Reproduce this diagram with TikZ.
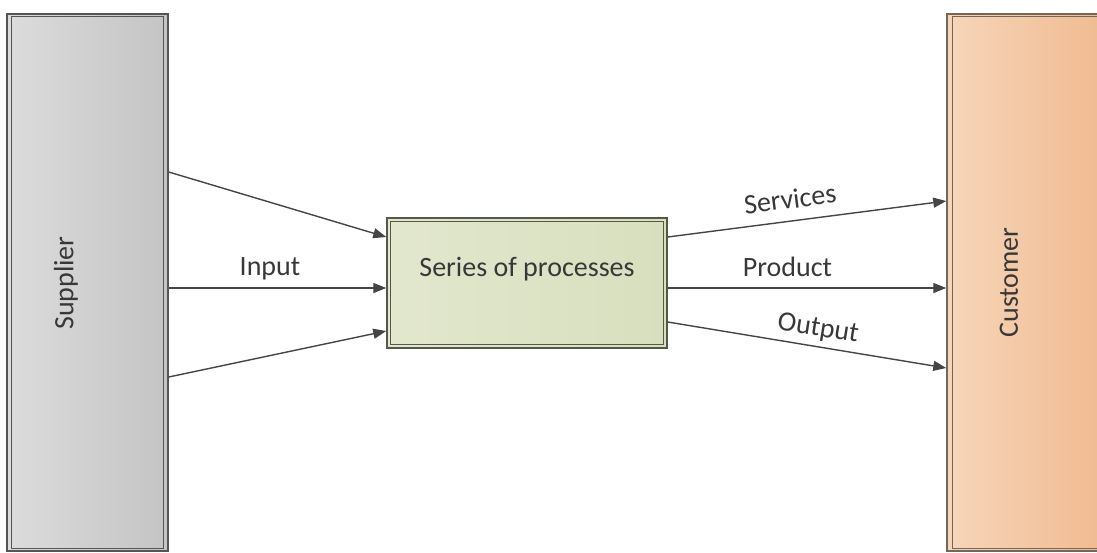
\documentclass[tikz,border=0pt]{standalone}
\usepackage{fontspec}
\setmainfont{Carlito}
\usetikzlibrary{arrows.meta}

\definecolor{ink}{HTML}{383838}
\definecolor{lineink}{HTML}{454545}
\definecolor{supL}{HTML}{DCDCDC}
\definecolor{supR}{HTML}{C4C4C4}
\definecolor{supEdge}{HTML}{555555}
\definecolor{cusL}{HTML}{F6D6BA}
\definecolor{cusR}{HTML}{F0BA90}
\definecolor{cusEdge}{HTML}{76665A}
\definecolor{procL}{HTML}{E2E7CE}
\definecolor{procR}{HTML}{D8DFBE}
\definecolor{procEdge}{HTML}{55594A}

\begin{document}
\begin{tikzpicture}[x=1pt,y=-1pt,
  panel/.style={rectangle, inner sep=0pt, line width=1.5pt},
  innerframe/.style={line width=1.2pt},
  flow/.style={draw=lineink, line width=1.4pt,
    -{Triangle[length=13pt,width=10pt]}},
  txt/.style={text=ink, inner sep=0pt, font=\fontsize{28}{32}\selectfont}]

\useasboundingbox (0,0) rectangle (1097,552);
\clip (0,0) rectangle (1097,552);

% supplier column
\node[panel, draw=supEdge, left color=supL, right color=supR,
      minimum width=161pt, minimum height=537pt] (sup) at (87.5,282.5) {};
\draw[innerframe, supEdge] ([shift={(5pt,-3pt)}]sup.north west)
  rectangle ([shift={(-5pt,3pt)}]sup.south east);
\node[txt, rotate=90] (suplabel) at (66,283) {Supplier};

% customer column
\node[panel, draw=cusEdge, left color=cusL, right color=cusR,
      minimum width=160pt, minimum height=537pt] (cus) at (1027,282.5) {};
\draw[innerframe, cusEdge] ([shift={(6pt,-3pt)}]cus.north west)
  rectangle ([shift={(-6pt,3pt)}]cus.south east);
\node[txt, rotate=90] (cuslabel) at (1009,282.5) {Customer};

% central process
\node[panel, draw=procEdge, left color=procL, right color=procR,
      minimum width=280pt, minimum height=130pt] (proc) at (527,283) {};
\draw[innerframe, procEdge] ([shift={(4pt,-4pt)}]proc.north west)
  rectangle ([shift={(-4pt,4pt)}]proc.south east);
\node[txt, anchor=base] (proclabel) at (527,276) {Series of processes};

% inputs
\draw[flow] (sup.east |- 0,172) -- (proc.west |- 0,237);
\draw[flow] (sup.east |- 0,288) -- (proc.west |- 0,288);
\draw[flow] (sup.east |- 0,377) -- (proc.west |- 0,331);
\node[txt, anchor=base] (inlabel) at (270,275) {Input};

% outputs
\draw[flow] (proc.east |- 0,237) -- (cus.west |- 0,201);
\draw[flow] (proc.east |- 0,288) -- (cus.west |- 0,288);
\draw[flow] (proc.east |- 0,322) -- (cus.west |- 0,368);
\node[txt, rotate=7.3] (servlabel) at (790,199) {Services};
\node[txt, anchor=base] (prodlabel) at (787.5,276) {Product};
\node[txt, rotate=-9.3] (outlabel) at (818,329) {Output};
\end{tikzpicture}
\end{document}
